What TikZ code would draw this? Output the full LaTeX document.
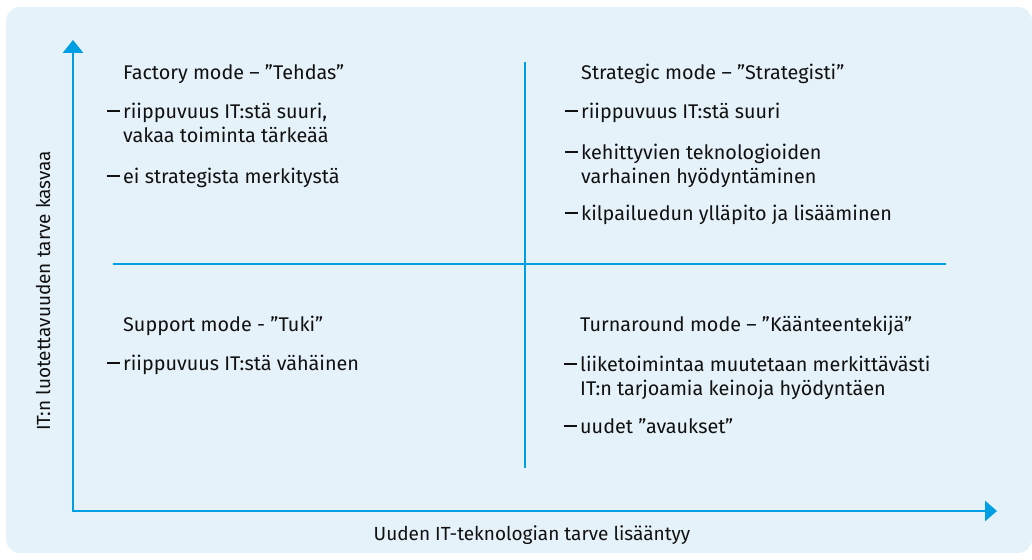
\documentclass[tikz,border=0pt]{standalone}
\usepackage{fontspec}
\setmainfont{Fira Sans}
\usetikzlibrary{arrows.meta}
\definecolor{axisblue}{HTML}{009FE3}
\definecolor{panelbg}{HTML}{E5F2F9}
\definecolor{ink}{HTML}{111111}
\newcommand{\itemdash}{\rule[6pt]{13pt}{1.8pt}}
\begin{document}
\begin{tikzpicture}[x=1pt,y=-1pt,
  txt/.style={inner sep=0pt, anchor=base west, text=ink, font=\fontsize{19.8}{23}\selectfont},
  dashmark/.style={inner sep=0pt, anchor=base west, text=ink},
  axislabel/.style={inner sep=0pt, text=ink, font=\fontsize{19}{22}\selectfont},
  axisline/.style={draw=axisblue, line width=2.8pt}]

\useasboundingbox (0,0) rectangle (1032,559);
\fill[panelbg, rounded corners=14pt] (6,7) rectangle (1032,553);

% axes
\coordinate (origin) at (73,511);
\coordinate (ytip) at (73,40);
\coordinate (xtip) at (997,511);
\draw[axisline, {Triangle[length=13pt,width=20pt]}-{Triangle[length=12pt,width=20pt]}]
  (ytip) -- (origin) -- (xtip);

% quadrant dividers
\coordinate (vtop) at (525,62);
\coordinate (vbot) at (525,468);
\coordinate (hleft) at (113,264);
\coordinate (hright) at (946,264);
\draw[axisline] (vtop) -- (vbot);
\draw[axisline] (hleft) -- (hright);

% axis labels
\node[axislabel, rotate=90] (ylab) at (43,291) {IT:n luotettavuuden tarve kasvaa};
\node[axislabel] (xlab) at (532,535) {Uuden IT-teknologian tarve lisääntyy};

% top left
\node[txt] (tl0) at (123,80) {Factory mode – ”Tehdas”};
\node[dashmark] (tl1d) at (107,118) {\itemdash};
\node[txt] (tl1) at (123,118) {riippuvuus IT:stä suuri,};
\node[txt] (tl1b) at (123,142) {vakaa toiminta tärkeää};
\node[dashmark] (tl2d) at (107,183) {\itemdash};
\node[txt] (tl2) at (123,183) {ei strategista merkitystä};

% top right
\node[txt] (tr0) at (581,80) {Strategic mode – ”Strategisti”};
\node[dashmark] (tr1d) at (565,118) {\itemdash};
\node[txt] (tr1) at (581,118) {riippuvuus IT:stä suuri};
\node[dashmark] (tr2d) at (565,159) {\itemdash};
\node[txt] (tr2) at (581,159) {kehittyvien teknologioiden};
\node[txt] (tr2b) at (581,183) {varhainen hyödyntäminen};
\node[dashmark] (tr3d) at (565,220) {\itemdash};
\node[txt] (tr3) at (581,220) {kilpailuedun ylläpito ja lisääminen};

% bottom left
\node[txt] (bl0) at (123,331) {Support mode - ”Tuki”};
\node[dashmark] (bl1d) at (107,370) {\itemdash};
\node[txt] (bl1) at (123,370) {riippuvuus IT:stä vähäinen};

% bottom right
\node[txt] (br0) at (580,331) {Turnaround mode – ”Käänteentekijä”};
\node[dashmark] (br1d) at (564,371) {\itemdash};
\node[txt] (br1) at (580,371) {liiketoimintaa muutetaan merkittävästi};
\node[txt] (br1b) at (580,395) {IT:n tarjoamia keinoja hyödyntäen};
\node[dashmark] (br2d) at (564,433) {\itemdash};
\node[txt] (br2) at (580,433) {uudet ”avaukset”};
\end{tikzpicture}
\end{document}
